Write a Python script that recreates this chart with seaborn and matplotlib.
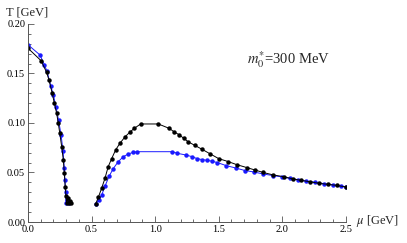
import numpy as np
import pandas as pd
import matplotlib
matplotlib.use('Agg')
import matplotlib.pyplot as plt
import seaborn as sns
from matplotlib.ticker import MultipleLocator

# --- data (mu in GeV, T in GeV) ---
left_black_mu = [0.0, 0.102, 0.147, 0.165, 0.191, 0.207, 0.225, 0.238, 0.25, 0.265,
                 0.278, 0.286, 0.293, 0.299, 0.304, 0.312, 0.32, 0.33, 0.34]
left_black_T = [0.1755, 0.163, 0.151, 0.1434, 0.130, 0.120, 0.110, 0.100, 0.0896, 0.076,
                0.0626, 0.049, 0.0357, 0.026, 0.019, 0.024, 0.019, 0.021, 0.019]

left_blue_mu = [0.0, 0.094, 0.128, 0.15, 0.18, 0.20, 0.22, 0.24, 0.26, 0.275,
                0.285, 0.29, 0.295, 0.30, 0.31, 0.32]
left_blue_T = [0.179, 0.1687, 0.159, 0.152, 0.137, 0.128, 0.116, 0.103, 0.088, 0.072,
               0.055, 0.042, 0.030, 0.019, 0.022, 0.019]

right_black_mu = [0.532, 0.553, 0.579, 0.605, 0.631, 0.658, 0.69, 0.723, 0.763, 0.80,
                  0.836, 0.886, 1.025, 1.11, 1.15, 1.19, 1.225, 1.26, 1.31, 1.365,
                  1.43, 1.50, 1.575, 1.64, 1.72, 1.785, 1.85, 1.93, 2.01, 2.086,
                  2.15, 2.217, 2.29, 2.36, 2.427, 2.5]
right_black_T = [0.018, 0.025, 0.034, 0.044, 0.056, 0.064, 0.073, 0.0795, 0.086, 0.0906,
                 0.0946, 0.099, 0.099, 0.0946, 0.091, 0.088, 0.0845, 0.081, 0.0775, 0.0737,
                 0.069, 0.064, 0.061, 0.058, 0.055, 0.0525, 0.050, 0.0475, 0.0458, 0.0434,
                 0.042, 0.0407, 0.039, 0.038, 0.037, 0.0354]

right_blue_mu = [0.532, 0.555, 0.579, 0.605, 0.637, 0.671, 0.71, 0.75, 0.789, 0.828,
                 0.859, 1.135, 1.174, 1.24, 1.29, 1.33, 1.37, 1.41, 1.45, 1.49,
                 1.56, 1.635, 1.706, 1.777, 1.85, 1.93, 2.0, 2.06, 2.12, 2.19,
                 2.26, 2.33, 2.40, 2.46, 2.5]
right_blue_T = [0.018, 0.022, 0.027, 0.036, 0.046, 0.054, 0.061, 0.066, 0.0687, 0.0704,
                0.071, 0.071, 0.0694, 0.0677, 0.066, 0.064, 0.063, 0.0623, 0.0613, 0.060,
                0.0569, 0.0545, 0.052, 0.0505, 0.0485, 0.0468, 0.0455, 0.044, 0.0428, 0.0413,
                0.0400, 0.0387, 0.0374, 0.0362, 0.0354]

sns.set_style('ticks')
plt.rcParams['font.family'] = ['Liberation Serif', 'DejaVu Serif']
plt.rcParams['mathtext.fontset'] = 'stix'

fig = plt.figure(figsize=(4.07, 2.43), dpi=100)
ax = fig.add_axes([0.0688, 0.0864, 0.781, 0.815])

blue = '#1a1aff'
# blue first so black sits on top, as in the reference
for mu, T, col in [(left_blue_mu, left_blue_T, blue),
                   (right_blue_mu, right_blue_T, blue),
                   (left_black_mu, left_black_T, 'black'),
                   (right_black_mu, right_black_T, 'black')]:
    df = pd.DataFrame({'mu': mu, 'T': T})
    sns.lineplot(data=df, x='mu', y='T', sort=False, ax=ax, color=col,
                 linewidth=0.7, marker='o', markersize=3.2, markeredgewidth=0,
                 estimator=None)

ax.set_xlim(0, 2.5)
ax.set_ylim(0, 0.2)
ax.xaxis.set_major_locator(MultipleLocator(0.5))
ax.xaxis.set_minor_locator(MultipleLocator(0.1))
ax.yaxis.set_major_locator(MultipleLocator(0.05))
ax.yaxis.set_minor_locator(MultipleLocator(0.01))
ax.xaxis.set_major_formatter(matplotlib.ticker.FormatStrFormatter('%.1f'))
ax.yaxis.set_major_formatter(matplotlib.ticker.FormatStrFormatter('%.2f'))
ax.tick_params(which='both', direction='in', labelsize=7.5, colors='#555555',
               labelcolor='black', width=0.6, pad=2)
ax.tick_params(which='major', length=4)
ax.tick_params(which='minor', length=2)
for s in ['top', 'right']:
    ax.spines[s].set_visible(False)
for s in ['left', 'bottom']:
    ax.spines[s].set_color('#555555')
    ax.spines[s].set_linewidth(0.7)

ax.set_xlabel('')
ax.set_ylabel('')
fig.text(0.014, 0.95, 'T [GeV]', fontsize=9, va='center', ha='left')
fig.text(0.875, 0.09, r'$\mu$ [GeV]', fontsize=9, va='center', ha='left')
ax.text(1.72, 0.164, r'$m_0^{*}$=300 MeV', fontsize=10.5, va='center', ha='left')

fig.savefig('out.png', dpi=100)
